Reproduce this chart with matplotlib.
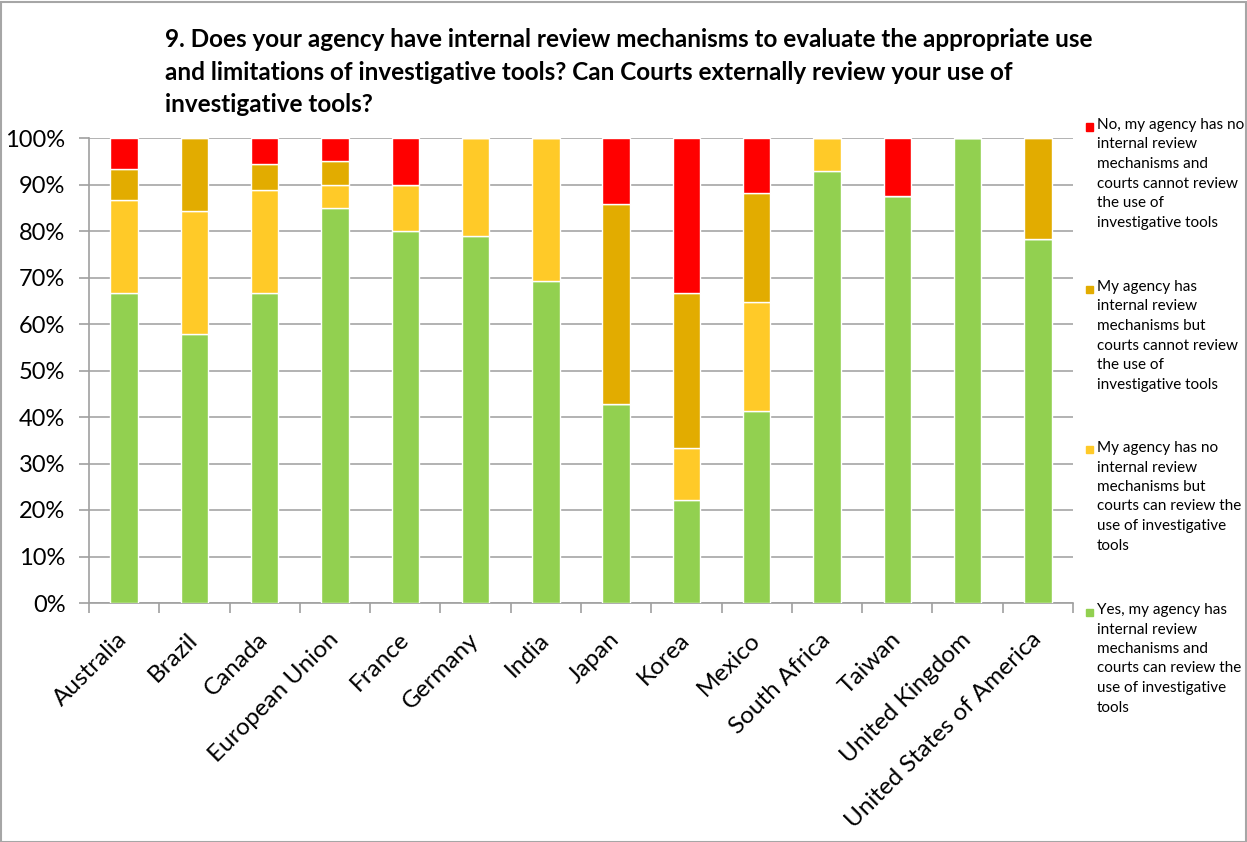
import matplotlib.pyplot as plt
import numpy as np
from matplotlib.patches import Rectangle

plt.rcParams['font.family'] = ['Lato', 'DejaVu Sans']

countries = ['Australia', 'Brazil', 'Canada', 'European Union', 'France', 'Germany',
             'India', 'Japan', 'Korea', 'Mexico', 'South Africa', 'Taiwan',
             'United Kingdom', 'United States of America']

# percentages per answer (bottom to top of stack)
yes_both = [66.7, 57.9, 66.7, 85.0, 80.0, 78.9, 69.2, 42.9, 22.2, 41.2, 92.9, 87.5, 100.0, 78.3]
no_internal_courts = [20.0, 26.3, 22.2, 5.0, 10.0, 21.1, 30.8, 0.0, 11.1, 23.5, 7.1, 0.0, 0.0, 0.0]
internal_no_courts = [6.7, 15.8, 5.6, 5.0, 0.0, 0.0, 0.0, 42.9, 33.3, 23.5, 0.0, 0.0, 0.0, 21.7]
neither = [6.7, 0.0, 5.6, 5.0, 10.0, 0.0, 0.0, 14.3, 33.3, 11.8, 0.0, 12.5, 0.0, 0.0]

labels = [
    'Yes, my agency has\ninternal review\nmechanisms and\ncourts can review the\nuse of investigative\ntools',
    'My agency has no\ninternal review\nmechanisms but\ncourts can review the\nuse of investigative\ntools',
    'My agency has\ninternal review\nmechanisms but\ncourts cannot review\nthe use of\ninvestigative tools',
    'No, my agency has no\ninternal review\nmechanisms and\ncourts cannot review\nthe use of\ninvestigative tools',
]
colors = ['#92D050', '#FFCA28', '#E2AC00', '#FF0000']

title = ('9. Does your agency have internal review mechanisms to evaluate the appropriate use\n'
         'and limitations of investigative tools? Can Courts externally review your use of\n'
         'investigative tools?')

W, H = 1247, 842
fig = plt.figure(figsize=(W / 100, H / 100), dpi=100)
ax = fig.add_axes([89 / W, 1 - 603 / H, (1073 - 89) / W, (603 - 138) / H])

x = np.arange(len(countries))
series = [yes_both, no_internal_courts, internal_no_courts, neither]
bottom = np.zeros(len(countries))
for vals, c in zip(series, colors):
    vals = np.array(vals)
    ax.bar(x, vals, width=0.39, bottom=bottom, color=c, edgecolor='white', linewidth=1, zorder=3)
    bottom += vals

ax.set_xlim(-0.5, len(countries) - 0.5)
ax.set_ylim(0, 100)
ax.set_yticks(np.arange(0, 101, 10))
ax.set_yticklabels([f'{v}%' for v in range(0, 101, 10)], fontsize=17)
ax.yaxis.grid(True, color='#A6A6A6', linewidth=1.2, zorder=0)
ax.set_axisbelow(True)

ax.set_xticks(x)
ax.set_xticklabels(countries, rotation=45, ha='right', va='center',
                   rotation_mode='anchor', fontsize=17.5)
ax.set_xticks(np.arange(-0.5, len(countries)), minor=True)
ax.tick_params(axis='x', which='major', length=0, pad=24)
ax.tick_params(axis='x', which='minor', length=7, color='#A0A0A0', width=1.2)
ax.tick_params(axis='y', length=7, color='#A0A0A0', width=1.2, pad=10)

for s in ['top', 'right']:
    ax.spines[s].set_visible(False)
for s in ['left', 'bottom']:
    ax.spines[s].set_color('#A0A0A0')
    ax.spines[s].set_linewidth(1.2)

fig.text(165 / W, 1 - 28 / H, title, ha='left', va='top', fontsize=17.5,
         fontweight='bold', linespacing=1.5)

# legend drawn on the right, top entry first
legend_y = [127, 289, 450, 612]
for lab, c, yc in zip(labels[::-1], colors[::-1], legend_y):
    fig.patches.append(Rectangle((1086 / W, 1 - (yc + 3.5) / H), 7 / W, 7 / H,
                                 transform=fig.transFigure, color=c))
    fig.text(1097 / W, 1 - (yc - 9) / H, lab, ha='left', va='top', fontsize=11,
             linespacing=1.5)

fig.patches.append(Rectangle((1 / W, 0), (W - 2) / W, (H - 2) / H, transform=fig.transFigure,
                             fill=False, edgecolor='#A6A6A6', linewidth=1.5))

plt.savefig('out.png', dpi=100)
